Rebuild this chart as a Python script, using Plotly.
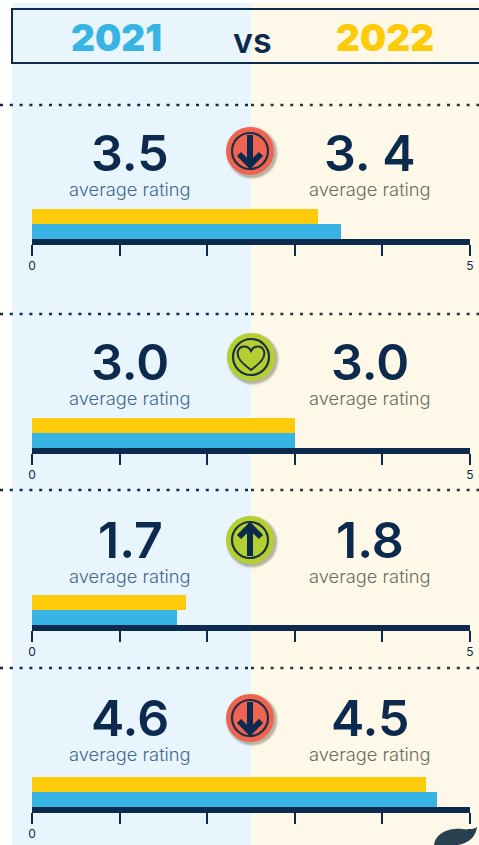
import plotly.graph_objects as go

W, H = 479, 845
years = ["2021", "2022"]
avg_2021 = ["3.5", "3.0", "1.7", "4.6"]
avg_2022 = ["3. 4", "3.0", "1.8", "4.5"]
bars_2021 = [3.53, 3.0, 1.65, 4.62]
bars_2022 = [3.27, 3.0, 1.76, 4.5]
tick_vals = [0, 1, 2, 3, 4, 5]
tick_text = ["0", "", "", "", "", "5"]
sub_label = "average rating"

NAVY = "#0c2a4d"
BLUE = "#38b4e4"
YELLOW = "#fdcb0a"
RED = "#ee6450"
GREEN = "#b4cf30"
FONT = "Inter"

bar_tops = [209, 418, 595, 777]
bar_bottoms = [239, 448, 625, 807]
num_y = [153, 362, 540, 718]
sub_y = [189, 398, 576, 754]
dot_y = [105, 314, 490, 668]
icon_y = [151, 357, 540, 718]
icon_x = [250, 251, 250, 250]
icons = ["down", "heart", "up", "down"]

px = lambda x: x / W
py = lambda y: 1 - y / H

fig = go.Figure()
shapes, ann = [], []

def rect(x0, y0, x1, y1, fill, layer="below", line=None):
    shapes.append(dict(type="rect", xref="paper", yref="paper", x0=px(x0), x1=px(x1),
                       y0=py(y0), y1=py(y1), fillcolor=fill, layer=layer,
                       line=line or dict(width=0)))

def circ(cx, cy, r, fill="rgba(0,0,0,0)", line=None, opacity=1):
    shapes.append(dict(type="circle", xref="paper", yref="paper", x0=px(cx - r), x1=px(cx + r),
                       y0=py(cy - r), y1=py(cy + r), fillcolor=fill, opacity=opacity,
                       layer="above", line=line or dict(width=0)))

def path(points, fill=None, line=None, opacity=1):
    d = ""
    for p in points:
        if isinstance(p, str):
            d += p + " "
        else:
            d += f"{px(p[0]):.5f},{py(p[1]):.5f} "
    shapes.append(dict(type="path", xref="paper", yref="paper", path=d.strip(), opacity=opacity,
                       fillcolor=fill or "rgba(0,0,0,0)", layer="above",
                       line=line or dict(width=0)))

def text(x, y, s, size, color, weight=400):
    ann.append(dict(xref="paper", yref="paper", x=px(x), y=py(y), text=s, showarrow=False,
                    xanchor="center", yanchor="middle",
                    font=dict(family=FONT, size=size, color=color, weight=weight)))

# panels
rect(12, 3, 251, 845, "#e8f5fc")
rect(251, 3, 479, 845, "#fdf8e7")

# header
shapes.append(dict(type="rect", xref="paper", yref="paper", x0=px(12), x1=px(490), y0=py(9), y1=py(63),
                   fillcolor="rgba(0,0,0,0)", layer="above", line=dict(color=NAVY, width=2)))
text(116, 37, years[0], 37, BLUE, 900)
text(252, 40, "VS".lower(), 34, NAVY, 600)
text(385, 37, years[1], 37, YELLOW, 900)

for i in range(4):
    xa = "xaxis" if i == 0 else f"xaxis{i+1}"
    ya = "yaxis" if i == 0 else f"yaxis{i+1}"
    xr = "x" if i == 0 else f"x{i+1}"
    yr = "y" if i == 0 else f"y{i+1}"
    fig.add_trace(go.Bar(y=[years[0]], x=[bars_2021[i]], orientation="h", marker=dict(color=BLUE, line=dict(width=0)),
                         xaxis=xr, yaxis=yr, showlegend=False, name=years[0]))
    fig.add_trace(go.Bar(y=[years[1]], x=[bars_2022[i]], orientation="h", marker=dict(color=YELLOW, line=dict(width=0)),
                         xaxis=xr, yaxis=yr, showlegend=False, name=years[1]))
    fig.update_layout({
        xa: dict(domain=[px(32), px(470)], range=[0, 5], anchor=yr, showgrid=False, zeroline=False,
                 automargin=False, showline=True, linewidth=6, linecolor=NAVY, ticks="outside", ticklen=11,
                 tickwidth=2, tickcolor=NAVY, tickvals=tick_vals, ticktext=tick_text,
                 tickfont=dict(family=FONT, size=12, color=NAVY)),
        ya: dict(domain=[py(bar_bottoms[i]), py(bar_tops[i])], anchor=xr, visible=False, automargin=False,
                 type="category", categoryorder="array", categoryarray=years, range=[-0.5, 1.5]),
    })
    # dotted separators
    for x0, x1, col in [(0, 251, NAVY), (251, 479, "#2a3340")]:
        shapes.append(dict(type="line", xref="paper", yref="paper", x0=px(x0), x1=px(x1), y0=py(dot_y[i]), y1=py(dot_y[i]),
                           layer="above", line=dict(color=col, width=2.6, dash="3px,6.8px")))
    # labels
    text(130, num_y[i], avg_2021[i], 50, NAVY, 600)
    text(370, num_y[i], avg_2022[i], 50, NAVY, 600)
    text(130, sub_y[i], sub_label, 18.3, "#45698c", 300)
    text(370, sub_y[i], sub_label, 18.3, "#6d6c62", 300)
    # icon
    cx, cy = icon_x[i], icon_y[i]
    for r, op in [(26.5, 0.08), (25.5, 0.12), (24.5, 0.18)]:
        circ(cx + 2, cy + 2, r, fill="#3a3020", opacity=op)
    kind = icons[i]
    circ(cx, cy, 24, fill=RED if kind == "down" else GREEN)
    circ(cx, cy, 18, line=dict(color="#1c2f47", width=2.2))
    if kind == "heart":
        path(["M", (cx, cy + 13), "C", (cx - 9, cy + 6), (cx - 15, cy + 1), (cx - 13, cy - 6),
              "C", (cx - 11, cy - 12), (cx - 3, cy - 12), (cx, cy - 6),
              "C", (cx + 3, cy - 12), (cx + 11, cy - 12), (cx + 13, cy - 6),
              "C", (cx + 15, cy + 1), (cx + 9, cy + 6), (cx, cy + 13), "Z"],
             line=dict(color="#1c2f47", width=2))
    else:
        s = 1 if kind == "down" else -1
        shaft = dict(color=NAVY, width=6)
        path(["M", (cx, cy - 16 * s), "L", (cx, cy + 12 * s)], line=shaft)
        path(["M", (cx - 11, cy + 3 * s), "L", (cx, cy + 14 * s), "L", (cx + 11, cy + 3 * s)], line=shaft)

# corner mark
path(["M", (434, 845), "C", (436, 832), (450, 828), (462, 829), "C", (470, 830), (474, 829), (477, 827),
      "C", (476, 836), (470, 843), (458, 845), "Z"], fill="#21394a", opacity=0.96)

fig.update_layout(width=W, height=H, margin=dict(l=0, r=0, t=0, b=0, autoexpand=False), autosize=False,
                  paper_bgcolor="white", plot_bgcolor="rgba(0,0,0,0)", bargap=0, barmode="overlay",
                  shapes=shapes, annotations=ann)
fig.write_html("out.html", config=dict(displayModeBar=False), default_width=W, default_height=H,
               post_script="document.body.style.margin='0';document.documentElement.style.overflow='hidden';")
